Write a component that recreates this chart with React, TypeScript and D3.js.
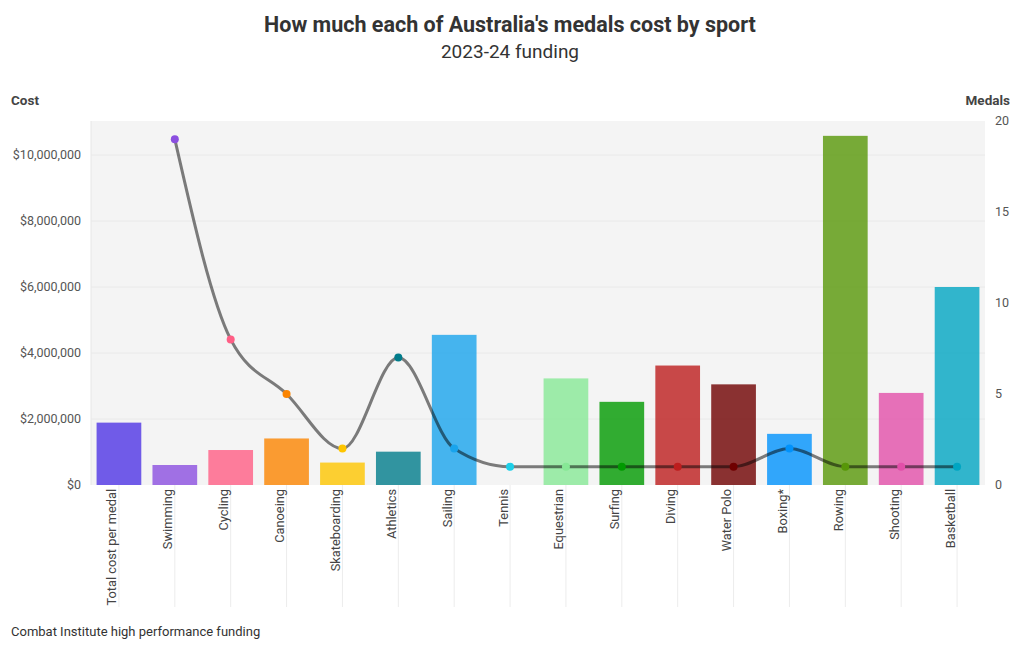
import { useEffect, useRef } from 'react';
import * as d3 from 'd3';

// Cost per medal (AUD) and medals won, 2023-24 funding
const SPORTS = [
  'Total cost per medal', 'Swimming', 'Cycling', 'Canoeing', 'Skateboarding', 'Athletics',
  'Sailing', 'Tennis', 'Equestrian', 'Surfing', 'Diving', 'Water Polo', 'Boxing*',
  'Rowing', 'Shooting', 'Basketball',
];
const COST_PER_MEDAL: (number | null)[] = [
  1890000, 606000, 1060000, 1410000, 680000, 1010000,
  4550000, null, 3230000, 2520000, 3620000, 3050000, 1550000,
  10580000, 2790000, 6000000,
];
const MEDALS: (number | null)[] = [
  null, 19, 8, 5, 2, 7,
  2, 1, 1, 1, 1, 1, 2,
  1, 1, 1,
];
const COLORS = [
  '#4f35e5', '#8b4fe0', '#ff5e85', '#fb8400', '#fec500', '#007c8b',
  '#19a4ec', '#1ecfe8', '#87e896', '#009a00', '#bd1d1d', '#6f0000', '#0092fc',
  '#579708', '#e24fa9', '#00a5c2',
];
const COST_TICKS = [0, 2000000, 4000000, 6000000, 8000000, 10000000];
const MEDAL_TICKS = [0, 5, 10, 15, 20];

const FONT = 'Roboto, "Open Sans", sans-serif';

export default function App() {
  const svgRef = useRef<SVGSVGElement>(null);

  useEffect(() => {
    if (!svgRef.current) return;
    const W = 1020;
    const H = 650;
    const left = 91, right = 985, top = 121, bottom = 485;

    const svg = d3.select(svgRef.current);
    svg.selectAll('*').remove();
    svg.attr('width', W).attr('height', H);

    const x = d3.scaleBand<string>().domain(SPORTS).range([left, right]);
    const bw = x.bandwidth();
    const yCost = d3.scaleLinear().domain([0, 11030000]).range([bottom, top]);
    const yMedals = d3.scaleLinear().domain([0, 20]).range([bottom, top]);

    // Titles
    svg.append('text')
      .attr('x', W / 2).attr('y', 32)
      .attr('text-anchor', 'middle')
      .attr('font-family', FONT).attr('font-size', 21.5).attr('font-weight', 700)
      .attr('fill', '#333')
      .text("How much each of Australia's medals cost by sport");
    svg.append('text')
      .attr('x', W / 2).attr('y', 58)
      .attr('text-anchor', 'middle')
      .attr('font-family', FONT).attr('font-size', 19)
      .attr('fill', '#333')
      .text('2023-24 funding');

    svg.append('text')
      .attr('x', 11).attr('y', 105)
      .attr('font-family', FONT).attr('font-size', 13.5).attr('font-weight', 700)
      .attr('fill', '#444').text('Cost');
    svg.append('text')
      .attr('x', 1010).attr('y', 105).attr('text-anchor', 'end')
      .attr('font-family', FONT).attr('font-size', 13.5).attr('font-weight', 700)
      .attr('fill', '#444').text('Medals');

    // Plot background
    svg.append('rect')
      .attr('x', left).attr('y', top)
      .attr('width', right - left).attr('height', bottom - top)
      .attr('fill', '#f4f4f4');
    svg.append('line')
      .attr('x1', left).attr('x2', left).attr('y1', top).attr('y2', bottom)
      .attr('stroke', '#e6e6e6');

    // Horizontal grid + left ticks
    const gl = svg.append('g');
    gl.selectAll('line')
      .data(COST_TICKS.filter((t) => t > 0))
      .join('line')
      .attr('x1', left).attr('x2', right)
      .attr('y1', (d) => yCost(d)).attr('y2', (d) => yCost(d))
      .attr('stroke', '#e9e9e9');
    gl.selectAll('text')
      .data(COST_TICKS)
      .join('text')
      .attr('x', 81).attr('y', (d) => yCost(d))
      .attr('dy', '0.35em').attr('text-anchor', 'end')
      .attr('font-family', FONT).attr('font-size', 12.5).attr('fill', '#555')
      .text((d) => d3.format('$,')(d));

    // Right ticks
    svg.append('g').selectAll('text')
      .data(MEDAL_TICKS)
      .join('text')
      .attr('x', 995).attr('y', (d) => yMedals(d))
      .attr('dy', '0.35em')
      .attr('font-family', FONT).attr('font-size', 12.5).attr('fill', '#555')
      .text((d) => String(d));

    // Category tick lines below the axis
    svg.append('g').selectAll('line')
      .data(SPORTS)
      .join('line')
      .attr('x1', (d) => x(d)! + bw / 2).attr('x2', (d) => x(d)! + bw / 2)
      .attr('y1', bottom).attr('y2', 607)
      .attr('stroke', '#ececec');

    // Category labels
    svg.append('g').selectAll('text')
      .data(SPORTS)
      .join('text')
      .attr('transform', (d) => `translate(${x(d)! + bw / 2 - 7},489) rotate(-90)`)
      .attr('text-anchor', 'end')
      .attr('dominant-baseline', 'central')
      .attr('font-family', FONT).attr('font-size', 12.8).attr('fill', '#444')
      .text((d) => d);

    // Bars
    const barData = SPORTS.map((s, i) => ({ s, v: COST_PER_MEDAL[i], c: COLORS[i] }))
      .filter((d) => d.v != null);
    svg.append('g').selectAll('rect')
      .data(barData)
      .join('rect')
      .attr('x', (d) => x(d.s)! + bw * 0.1)
      .attr('width', bw * 0.8)
      .attr('y', (d) => yCost(d.v as number))
      .attr('height', (d) => bottom - yCost(d.v as number))
      .attr('fill', (d) => d.c)
      .attr('fill-opacity', 0.8);

    // Medals line
    const pts = SPORTS.map((s, i) => ({ s, m: MEDALS[i], c: COLORS[i] }))
      .filter((d) => d.m != null);
    const line = d3.line<{ s: string; m: number | null }>()
      .x((d) => x(d.s)! + bw / 2)
      .y((d) => yMedals(d.m as number))
      .curve(d3.curveMonotoneX);
    svg.append('path')
      .datum(pts)
      .attr('d', line)
      .attr('fill', 'none')
      .attr('stroke', '#000')
      .attr('stroke-opacity', 0.5)
      .attr('stroke-width', 3);
    svg.append('g').selectAll('circle')
      .data(pts)
      .join('circle')
      .attr('cx', (d) => x(d.s)! + bw / 2)
      .attr('cy', (d) => yMedals(d.m as number))
      .attr('r', 4)
      .attr('fill', (d) => d.c);

    // Source
    svg.append('text')
      .attr('x', 11).attr('y', 636)
      .attr('font-family', FONT).attr('font-size', 13).attr('fill', '#333')
      .text('Combat Institute high performance funding');
  }, []);

  return <svg ref={svgRef} style={{ position: 'absolute', left: 0, top: 0 }} />;
}
